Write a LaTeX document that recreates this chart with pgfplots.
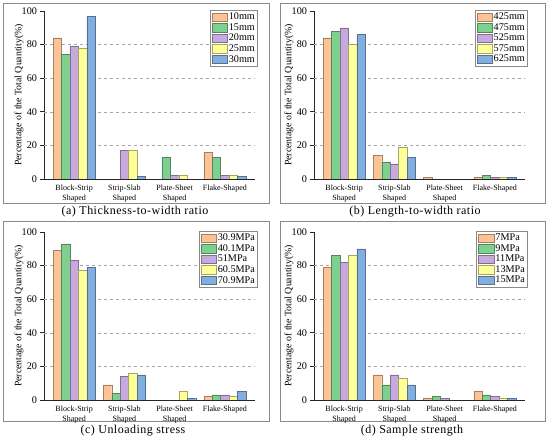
\documentclass[border=0pt]{standalone}
\usepackage{fontspec}
\setmainfont{Liberation Serif}
\newfontfamily\capfont[LetterSpace=4]{Liberation Serif}
\usepackage{pgfplots}
\pgfplotsset{compat=1.18}
\definecolor{cA}{HTML}{FCC396}
\definecolor{cB}{HTML}{7ED08F}
\definecolor{cC}{HTML}{C7AADD}
\definecolor{cD}{HTML}{FFFF99}
\definecolor{cE}{HTML}{82AEE0}
\definecolor{frame}{HTML}{8A8A8A}
\pgfplotsset{
  panel/.style={
    scale only axis, width=211pt, height=168pt,
    anchor=south west,
    xmin=-0.6, xmax=3.6, ymin=0, ymax=100,
    axis x line*=bottom, axis y line*=left,
    axis line style={-, line width=0.8pt, black!85},
    ybar=0pt, bar width=0.168,
    every axis plot post/.append style={
      legend image code/.code={\draw[##1, line width=0.4pt] (0pt,-4.1pt) rectangle (15.5pt,4.2pt);}},
    ytick={0,20,40,60,80,100},
    tick align=outside, major tick length=3.5pt,
    ytick style={line width=0.7pt, black!85},
    extra y ticks={20,40,60,80}, extra y tick labels={},
    extra y tick style={grid=major, major tick length=0pt},
    grid style={dashed, black!35, line width=0.5pt},
    xtick={0,1,2,3},
    xticklabels={{Block-Strip\\Shaped},{Strip-Slab\\Shaped},{Plate-Sheet\\Shaped},{Flake-Shaped}},
    xtick style={draw=none},
    xticklabel style={align=center, font=\fontsize{8}{10}\selectfont, yshift=1pt},
    yticklabel style={font=\fontsize{10.2}{12}\selectfont},
    /pgf/number format/assume math mode=true,
    ylabel={Percentage of the Total Quantity(\%)},
    ylabel style={at={(axis description cs:-0.118,0.5)}, anchor=center, font=\fontsize{9.8}{12}\selectfont},
    legend style={at={(1.014,1.006)}, anchor=north east, draw=frame, line width=0.6pt,
      font=\fontsize{10.2}{10}\selectfont, inner sep=1.6pt,
      nodes={inner sep=1.15pt, anchor=west}, row sep=0pt},
    legend cell align=left,
  },
  sA/.style={fill=cA, draw=cA!65!black, line width=0.4pt},
  sB/.style={fill=cB, draw=cB!65!black, line width=0.4pt},
  sC/.style={fill=cC, draw=cC!65!black, line width=0.4pt},
  sD/.style={fill=cD, draw=cD!65!black, line width=0.4pt},
  sE/.style={fill=cE, draw=cE!65!black, line width=0.4pt},
}
\begin{document}
\begin{tikzpicture}
\path[use as bounding box] (0,0) rectangle (550pt,441pt);
\draw[frame, line width=0.8pt] (3pt,238pt) rectangle (269pt,438pt);
\draw[frame, line width=0.8pt] (280pt,238pt) rectangle (545pt,438pt);
\draw[frame, line width=0.8pt] (3pt,20pt) rectangle (269pt,220pt);
\draw[frame, line width=0.8pt] (280pt,20pt) rectangle (545pt,220pt);

% (a)
\begin{axis}[panel, at={(44pt,262pt)}]
\addplot[sA] coordinates {(0,84) (3,16)};
\addplot[sB] coordinates {(0,74) (2,13) (3,13)};
\addplot[sC] coordinates {(0,79) (1,17) (2,2) (3,2)};
\addplot[sD] coordinates {(0,78) (1,17) (2,2.5) (3,2.5)};
\addplot[sE] coordinates {(0,97) (1,1.5) (3,1.5)};
\legend{10mm,15mm,20mm,25mm,30mm}
\end{axis}

% (b)
\begin{axis}[panel, at={(314pt,262pt)}]
\addplot[sA] coordinates {(0,84) (1,14) (2,1) (3,1)};
\addplot[sB] coordinates {(0,88) (1,10) (3,2)};
\addplot[sC] coordinates {(0,90) (1,9) (3,1)};
\addplot[sD] coordinates {(0,80) (1,19) (3,1)};
\addplot[sE] coordinates {(0,86) (1,13) (3,1)};
\legend{425mm,475mm,525mm,575mm,625mm}
\end{axis}

% (c)
\begin{axis}[panel, at={(44pt,41pt)}]
\addplot[sA] coordinates {(0,89) (1,9) (3,2)};
\addplot[sB] coordinates {(0,93) (1,4) (3,3)};
\addplot[sC] coordinates {(0,83) (1,14) (3,3)};
\addplot[sD] coordinates {(0,77) (1,16) (2,5) (3,2)};
\addplot[sE] coordinates {(0,79) (1,15) (2,1) (3,5)};
\legend{30.9MPa,40.1MPa,51MPa,60.5MPa,70.9MPa}
\end{axis}

% (d)
\begin{axis}[panel, at={(314pt,41pt)}]
\addplot[sA] coordinates {(0,79) (1,15) (2,1) (3,5)};
\addplot[sB] coordinates {(0,86) (1,9) (2,2) (3,3)};
\addplot[sC] coordinates {(0,82) (1,15) (2,1) (3,2)};
\addplot[sD] coordinates {(0,86) (1,13) (3,1)};
\addplot[sE] coordinates {(0,90) (1,9) (3,1)};
\legend{7MPa,9MPa,11MPa,13MPa,15MPa}
\end{axis}

\node[font=\capfont\fontsize{12}{14}\selectfont] at (135pt,229pt) {(a) Thickness-to-width ratio};
\node[font=\capfont\fontsize{12}{14}\selectfont] at (415pt,229pt) {(b) Length-to-width ratio};
\node[font=\capfont\fontsize{12}{14}\selectfont] at (133pt,10pt) {(c) Unloading stress};
\node[font=\capfont\fontsize{12}{14}\selectfont] at (412pt,10pt) {(d) Sample strength};
\end{tikzpicture}
\end{document}
